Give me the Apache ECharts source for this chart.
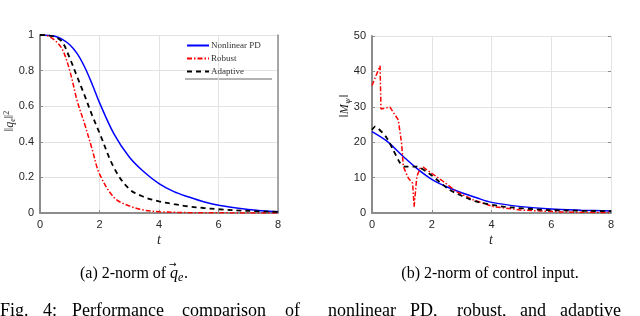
<!DOCTYPE html>
<html><head><meta charset="utf-8">
<script src="https://cdn.jsdelivr.net/npm/echarts@6/dist/echarts.min.js"></script>
<style>html,body{margin:0;padding:0;background:#fff}#c{width:640px;height:316px}</style>
</head><body><div id="c"></div>
<script>
// ---- data: left panel (2-norm of q_e) ----
const tLeft        = [0,0.25,0.5,0.75,1,1.25,1.5,1.75,2,2.5,3,3.5,4,4.5,5,5.5,6,7,8];
const pdLeft       = [1,0.999,0.993,0.975,0.945,0.895,0.82,0.725,0.62,0.44,0.315,0.23,0.165,0.12,0.09,0.063,0.044,0.02,0.007];
const robustLeft   = [1,0.995,0.97,0.92,0.8,0.63,0.5,0.36,0.22,0.085,0.04,0.016,0.007,0.004,0.002,0.001,0.001,0,0];
const adaptiveLeft = [1,0.998,0.99,0.96,0.87,0.765,0.66,0.55,0.45,0.25,0.135,0.09,0.065,0.05,0.037,0.028,0.021,0.012,0.006];
const xTicks       = [0,2,4,6,8];
// ---- data: right panel (2-norm of control input) ----
const tPdRight       = [0,0.5,1,1.5,2,2.5,3,3.5,4,5,6,7,8];
const pdRight        = [23,20.3,16.3,12.6,9.5,7.4,5.7,4.3,3.0,1.8,1.1,0.8,0.6];
const tRobustRight   = [0,0.27,0.3,0.6,0.88,0.99,1.05,1.22,1.36,1.41,1.5,1.61,1.72,2.0,2.39,2.83,3.39,4.06,4.96,6.3,8];
const robustRight    = [36,41.6,29.4,29.9,26.3,19.7,13.1,9.8,8.4,1.8,10.3,12.6,12.9,11.2,8.9,6.0,3.7,1.8,0.85,0.3,0.1];
const tAdaptiveRight = [0,0.1,0.47,0.71,0.94,1.1,1.5,2.0,2.6,3.5,4.4,5.85,8];
const adaptiveRight  = [23.5,24.4,21.5,17.8,14.1,13.1,13.1,10.6,6.5,3.2,1.8,0.85,0.5];
const seriesNames    = ['Nonlinear PD','Robust','Adaptive'];

const zip = (t,v)=>t.map((x,i)=>[x,v[i]]);
const BLUE='#0000ff', RED='#ff0000', BLACK='#000000';
const lsPD = {color:BLUE,width:1.5,type:'solid'};
const lsRB = {color:RED,width:1.5,type:[5,2,1.5,2]};
const lsAD = {color:BLACK,width:1.8,type:[5,4]};
const axisLbl = {color:'#262626',fontSize:11,fontFamily:'Liberation Sans'};
const gridLine = {show:true,lineStyle:{color:'#e3e3e3',width:1}};
function xAx(grid){return {type:'value',gridIndex:grid,min:0,max:8,interval:2,
  axisLine:{show:true,onZero:false,lineStyle:{color:'#8c8c8c',width:2}},
  axisTick:{show:true,inside:true,length:3,lineStyle:{color:'#8c8c8c'}},
  axisLabel:Object.assign({margin:6},axisLbl),splitLine:gridLine};}
function yAx(grid,max,interval,fmt){return {type:'value',gridIndex:grid,min:0,max:max,interval:interval,
  axisLine:{show:true,lineStyle:{color:'#8c8c8c',width:2}},
  axisTick:{show:true,inside:true,length:3,lineStyle:{color:'#8c8c8c'}},
  axisLabel:Object.assign({margin:6,formatter:fmt},axisLbl),splitLine:gridLine};}

const chart = echarts.init(document.getElementById('c'),null,{renderer:'canvas'});
const mk=(name,data,ls,xi,yi,sm)=>({name,type:'line',data,xAxisIndex:xi,yAxisIndex:yi,
  showSymbol:false,symbol:'none',lineStyle:ls,itemStyle:{color:ls.color},smooth:sm,animation:false,z:3});

chart.setOption({
  animation:false,
  grid:[{left:40,top:35,width:238,height:178},{left:372,top:36,width:239,height:177}],
  xAxis:[xAx(0),xAx(1)],
  yAxis:[
    yAx(0,1,0.2,v=>v===0?'0':v===1?'1':v.toFixed(1)),
    yAx(1,50,10,v=>String(v)),
    {type:'value',gridIndex:0,position:'right',min:0,max:1,interval:0.2,
      axisLine:{show:true,lineStyle:{color:'#8c8c8c',width:1.5}},axisTick:{show:false},axisLabel:{show:false},splitLine:{show:false}},
    {type:'value',gridIndex:1,position:'right',min:0,max:50,interval:10,
      axisLine:{show:false},axisTick:{show:true,inside:true,length:3,lineStyle:{color:'#8c8c8c'}},axisLabel:{show:false},splitLine:{show:false}}
  ],
  legend:{data:seriesNames,orient:'vertical',left:186,top:41,itemWidth:22,itemHeight:8,itemGap:4,
    padding:0,itemStyle:{opacity:0},
    textStyle:{fontFamily:'Liberation Serif',fontSize:9,color:'#333',padding:[0,0,0,-3]}},
  series:[
    mk(seriesNames[0],zip(tLeft,pdLeft),lsPD,0,0,0.35),
    mk(seriesNames[1],zip(tLeft,robustLeft),lsRB,0,0,0.35),
    mk(seriesNames[2],zip(tLeft,adaptiveLeft),lsAD,0,0,0.35),
    mk(seriesNames[0],zip(tPdRight,pdRight),lsPD,1,1,0.3),
    mk(seriesNames[1],zip(tRobustRight,robustRight),lsRB,1,1,false),
    mk(seriesNames[2],zip(tAdaptiveRight,adaptiveRight),lsAD,1,1,0.2)
  ],
  graphic:[
    {type:'line',shape:{x1:185,y1:79,x2:272,y2:79},style:{stroke:'#666',lineWidth:1}},
    {type:'text',x:10,y:121,rotation:Math.PI/2,style:{
      text:'{a|‖}{q|q}{s|e}{a|‖}{p|2}',align:'center',verticalAlign:'middle',
      rich:{a:{font:'12px "Liberation Serif"',fill:'#262626'},q:{font:'italic 12px "Liberation Serif"',fill:'#262626'},
            s:{font:'italic 8px "Liberation Serif"',fill:'#262626',padding:[5,0,0,0]},
            p:{font:'8px "Liberation Serif"',fill:'#262626',padding:[0,0,6,0]}}}},
    {type:'text',x:345,y:106,rotation:Math.PI/2,style:{
      text:'{a|‖}{q|M}{s|ψ}{a|‖}',align:'center',verticalAlign:'middle',
      rich:{a:{font:'12px "Liberation Serif"',fill:'#262626'},q:{font:'italic 12px "Liberation Serif"',fill:'#262626'},
            s:{font:'italic 8px "DejaVu Serif"',fill:'#262626',padding:[5,0,0,0]}}}},
    {type:'text',x:159,y:240,style:{text:'t',font:'italic 14px "Liberation Serif"',fill:'#262626',align:'center',verticalAlign:'middle'}},
    {type:'text',x:491,y:240,style:{text:'t',font:'italic 14px "Liberation Serif"',fill:'#262626',align:'center',verticalAlign:'middle'}},
    {type:'text',x:80,y:274,style:{text:'(a) 2-norm of ',font:'16px "Liberation Serif"',fill:'#000',align:'left',verticalAlign:'middle'}},
    {type:'text',x:170,y:274,style:{text:'q',font:'italic 16px "Liberation Serif"',fill:'#000',align:'left',verticalAlign:'middle'}},
    {type:'text',x:169,y:265,style:{text:'→',font:'9px "DejaVu Sans"',fill:'#000',align:'left',verticalAlign:'middle'}},
    {type:'text',x:178,y:278,style:{text:'e',font:'italic 12px "Liberation Serif"',fill:'#000',align:'left',verticalAlign:'middle'}},
    {type:'text',x:184,y:274,style:{text:'.',font:'16px "Liberation Serif"',fill:'#000',align:'left',verticalAlign:'middle'}},
    {type:'text',x:490,y:274,style:{text:'(b) 2-norm of control input.',font:'16px "Liberation Serif"',fill:'#000',align:'center',verticalAlign:'middle'}},
    ...[['Fig.',0],['4:',43],['Performance',72],['comparison',182],['of',285],['nonlinear',328],['PD,',410],['robust,',457],['and',520],['adaptive',560]]
      .map(([w,x])=>({type:'text',x:x,y:311,style:{text:w,font:'18px "Liberation Serif"',fill:'#000',align:'left',verticalAlign:'middle'}}))
  ]
});
</script></body></html>
